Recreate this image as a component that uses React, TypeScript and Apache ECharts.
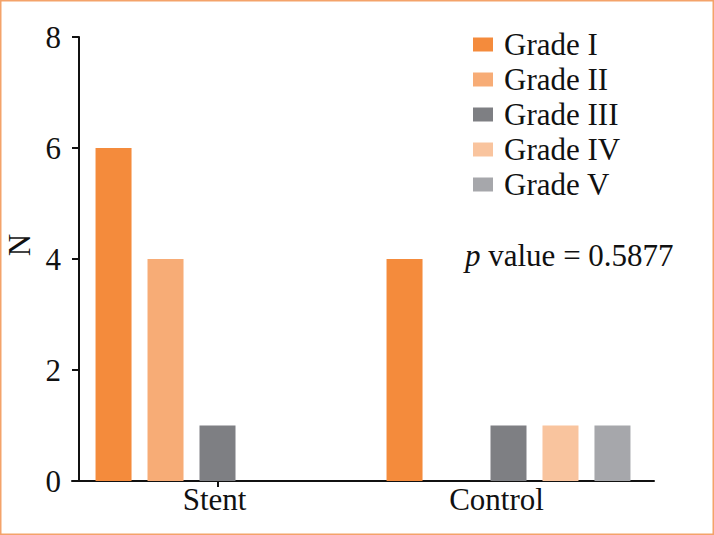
import React, { useEffect, useRef } from "react";
import * as echarts from "echarts";

const groups = ["Stent", "Control"];
const grades = ["Grade I", "Grade II", "Grade III", "Grade IV", "Grade V"];
// counts per grade, [Stent, Control]
const gradeI = [6, 4];
const gradeII = [4, 0];
const gradeIII = [1, 1];
const gradeIV = [0, 1];
const gradeV = [0, 1];
const gradeColors = ["#F48B3C", "#F7AC76", "#7E7F83", "#F9C49E", "#A6A7AB"];
const yTicks = { min: 0, max: 8, interval: 2 };
const pValueText = "0.5877";

const FONT = "Liberation Serif";
const FS = 31;

export default function App() {
  const ref = useRef<HTMLDivElement>(null);

  useEffect(() => {
    if (!ref.current) return;
    const chart = echarts.init(ref.current, undefined, { renderer: "svg" });
    const values = [gradeI, gradeII, gradeIII, gradeIV, gradeV];

    chart.setOption({
      animation: false,
      backgroundColor: "#ffffff",
      grid: {
        left: 72,
        right: 60,
        top: 37,
        bottom: 54,
        containLabel: false,
        outerBoundsMode: "none",
      },
      legend: {
        orient: "vertical",
        left: 468,
        top: 24,
        itemWidth: 20,
        itemHeight: 14,
        itemGap: 4,
        icon: "rect",
        textStyle: { fontFamily: FONT, fontSize: FS, color: "#111", lineHeight: 31, padding: [0, 0, 0, 6] },
        data: grades,
      },
      xAxis: {
        type: "category",
        data: groups,
        axisLine: { lineStyle: { color: "#111", width: 2 } },
        axisTick: {
          show: true,
          alignWithLabel: true,
          length: 6,
          interval: (i: number) => i === 0,
          lineStyle: { color: "#111", width: 2 },
        },
        axisLabel: {
          margin: 3,
          fontFamily: FONT,
          fontSize: FS,
          color: "#111",
          formatter: (v: string) => (v === "Control" ? "{c|" + v + "}" : "{s|" + v + "}"),
          rich: {
            s: { fontFamily: FONT, fontSize: FS, color: "#111", padding: [0, 6, 0, 0] },
            c: { fontFamily: FONT, fontSize: FS, color: "#111", padding: [0, 24, 0, 0] },
          },
        },
      },
      yAxis: {
        type: "value",
        min: yTicks.min,
        max: yTicks.max,
        interval: yTicks.interval,
        offset: -7,
        name: "N",
        nameLocation: "middle",
        nameGap: 44,
        nameRotate: 90,
        nameTextStyle: { fontFamily: FONT, fontSize: FS, color: "#111", padding: [0, 0, 0, 28] },
        splitLine: { show: false },
        axisLine: { show: true, lineStyle: { color: "#111", width: 2 } },
        axisTick: { show: true, length: 7, lineStyle: { color: "#111", width: 2 } },
        axisLabel: { margin: 18, fontFamily: FONT, fontSize: FS, color: "#111" },
      },
      series: grades.map((g, i) => ({
        name: g,
        type: "bar",
        data: values[i],
        barWidth: 36,
        barGap: "44.4%",
        itemStyle: { color: gradeColors[i] },
      })),
      graphic: [
        {
          type: "text",
          left: 465,
          top: 240,
          style: {
            text: "{i|p} value = " + pValueText,
            fontFamily: FONT,
            fontSize: FS,
            fill: "#111",
            rich: {
              i: { fontFamily: FONT, fontSize: FS, fontStyle: "italic", fill: "#111" },
            },
          },
        },
        {
          type: "rect",
          shape: { x: 0.75, y: 0.75, width: 712.5, height: 533.5 },
          style: { fill: "none", stroke: "#F4A36A", lineWidth: 1.5 },
          silent: true,
        },
      ],
    });

    return () => chart.dispose();
  }, []);

  return (
    <div
      ref={ref}
      style={{ position: "absolute", left: 0, top: 0, width: 714, height: 535 }}
    />
  );
}
